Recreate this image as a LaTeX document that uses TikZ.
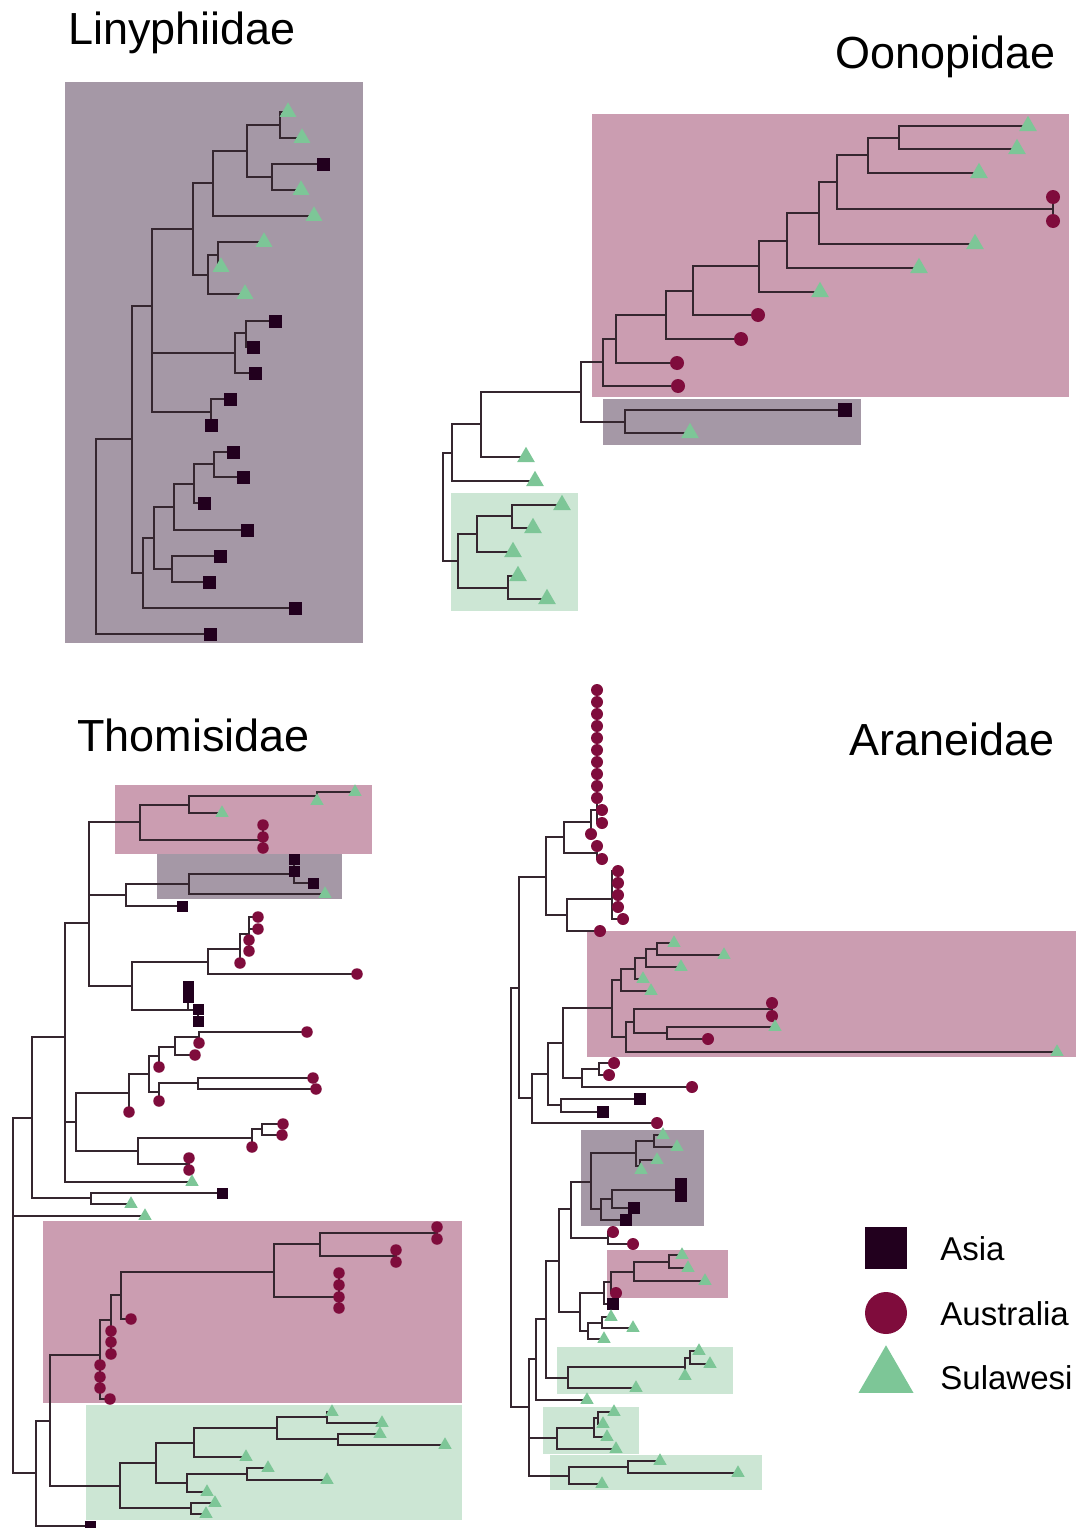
\documentclass[tikz,border=0pt]{standalone}
\usepackage{fontspec}
\setmainfont{Liberation Sans}
\usetikzlibrary{shapes.geometric}
\pgfdeclarelayer{top}
\pgfsetlayers{main,top}
\definecolor{asiac}{HTML}{22001E}
\definecolor{ausc}{HTML}{7F0C3C}
\definecolor{sulc}{HTML}{7DC697}
\definecolor{greybox}{HTML}{A598A6}
\definecolor{pinkbox}{HTML}{CB9DB1}
\definecolor{greenbox}{HTML}{CCE6D4}
\definecolor{brc}{HTML}{35262F}
\newcommand{\Tip}[4]{\begin{pgfonlayer}{top}\node[#1] (#2) at (#3,#4) {};\end{pgfonlayer}}
\newcommand{\Asia}[3]{\Tip{asia}{#1}{#2}{#3}}
\newcommand{\Aus}[3]{\Tip{aus}{#1}{#2}{#3}}
\newcommand{\Sul}[3]{\Tip{sul}{#1}{#2}{#3}}
\newcommand{\Split}[3]{\coordinate (#1) at (#2,#3);}
\newcommand{\Clade}[2]{\foreach \c in {#2} \draw[branch] (#1) |- (\c.center);}

\begin{document}
\begin{tikzpicture}[x=0.02cm,y=-0.02cm]
\tikzset{
  branch/.style={draw=brc, line width=0.7pt},
  asia/.style={rectangle, fill=asiac, inner sep=0pt, minimum size=\sqs},
  aus/.style={circle, fill=ausc, inner sep=0pt, minimum size=\cis},
  sul/.style={regular polygon, regular polygon sides=3, fill=sulc, inner sep=0pt, minimum size=\trs},
  greyclade/.style={fill=greybox},
  pinkclade/.style={fill=pinkbox},
  greenclade/.style={fill=greenbox},
  title/.style={anchor=base west, inner sep=0pt, font=\fontsize{25.6}{30}\selectfont},
  legend/.style={anchor=base west, inner sep=0pt, font=\fontsize{18.8}{22}\selectfont}
}
\useasboundingbox (0,0) rectangle (1076,1528);

\node[title] (tLin) at (68,44) {Linyphiidae};
\node[title] (tOon) at (835,68) {Oonopidae};
\node[title] (tTho) at (77,751) {Thomisidae};
\node[title] (tAra) at (849,755) {Araneidae};

\fill[greyclade] (65,82) rectangle (363,643);
\fill[pinkclade] (592,114) rectangle (1069,397);
\fill[greyclade] (603,399) rectangle (861,445);
\fill[greenclade] (451,493) rectangle (578,611);
\fill[pinkclade] (115,785) rectangle (372,854);
\fill[greyclade] (157,854) rectangle (342,899);
\fill[pinkclade] (43,1221) rectangle (462,1403);
\fill[greenclade] (86,1405) rectangle (462,1520);
\fill[pinkclade] (587,931) rectangle (1076,1057);
\fill[greyclade] (581,1130) rectangle (704,1226);
\fill[pinkclade] (607,1250) rectangle (728,1298);
\fill[greenclade] (557,1347) rectangle (733,1394);
\fill[greenclade] (543,1407) rectangle (639,1454);
\fill[greenclade] (550,1455) rectangle (762,1490);

\def\sqs{0.26cm}\def\cis{0.28cm}\def\trs{0.39cm}
\Sul{l1}{288}{112} \Sul{l2}{302}{138} \Asia{l3}{323}{164} \Sul{l4}{301}{190}
\Sul{l5}{314}{216} \Sul{l6}{264}{242} \Sul{l7}{221}{267} \Sul{l8}{245}{294}
\Asia{l9}{275}{321} \Asia{l10}{253}{347} \Asia{l11}{255}{373} \Asia{l12}{230}{399}
\Asia{l13}{211}{425} \Asia{l14}{233}{452} \Asia{l15}{243}{477} \Asia{l16}{204}{503}
\Asia{l17}{247}{530} \Asia{l18}{220}{556} \Asia{l19}{209}{582} \Asia{l20}{295}{608}
\Asia{l21}{210}{634}
\Split{lA}{280}{125} \Split{lB}{272}{177} \Split{lC}{247}{151} \Split{lD}{213}{183}
\Split{lG}{218}{255} \Split{lF}{208}{275} \Split{lE}{193}{229} \Split{lK}{246}{333}
\Split{lJ}{235}{353} \Split{lI}{211}{412} \Split{lH}{152}{306} \Split{lR}{214}{464}
\Split{lQ}{194}{484} \Split{lO}{174}{507} \Split{lP}{172}{569} \Split{lN}{154}{538}
\Split{lM}{143}{573} \Split{lL}{132}{439} \Split{lroot}{96}{537}
\Clade{lA}{l1,l2} \Clade{lB}{l3,l4} \Clade{lC}{lA,lB} \Clade{lD}{lC,l5}
\Clade{lG}{l6,l7} \Clade{lF}{lG,l8} \Clade{lE}{lD,lF} \Clade{lK}{l9,l10}
\Clade{lJ}{lK,l11} \Clade{lI}{l12,l13} \Clade{lH}{lE,lJ,lI} \Clade{lR}{l14,l15}
\Clade{lQ}{lR,l16} \Clade{lO}{lQ,l17} \Clade{lP}{l18,l19} \Clade{lN}{lO,lP}
\Clade{lM}{lN,l20} \Clade{lL}{lH,lM} \Clade{lroot}{lL,l21}

\def\sqs{0.27cm}\def\cis{0.28cm}\def\trs{0.41cm}
\Sul{o1}{1028}{126} \Sul{o2}{1017}{149} \Sul{o3}{979}{173} \Aus{o4}{1053}{197}
\Aus{o5}{1053}{221} \Sul{o6}{975}{244} \Sul{o7}{919}{268} \Sul{o8}{820}{292}
\Aus{o9}{758}{315} \Aus{o10}{741}{339} \Aus{o11}{677}{363} \Aus{o12}{678}{386}
\Asia{o13}{845}{410} \Sul{o14}{690}{433} \Sul{o15}{526}{457} \Sul{o16}{535}{481}
\Sul{o17}{562}{505} \Sul{o18}{533}{528} \Sul{o19}{513}{552} \Sul{o20}{518}{576}
\Sul{o21}{547}{599}
\Split{oP}{899}{138} \Split{oN}{868}{155} \Split{oO}{1053}{209} \Split{oM}{837}{182}
\Split{oL}{819}{213} \Split{oK}{787}{241} \Split{oJ}{759}{266} \Split{oI}{693}{291}
\Split{oH}{666}{315} \Split{oG}{616}{339} \Split{oE}{603}{362} \Split{oF}{625}{422}
\Split{oD}{581}{392} \Split{oC}{481}{424} \Split{oA}{452}{453} \Split{oS}{512}{516}
\Split{oQ}{477}{534} \Split{oR}{508}{588} \Split{oB}{458}{561} \Split{oroot}{443}{507}
\Clade{oP}{o1,o2} \Clade{oN}{oP,o3} \Clade{oO}{o4,o5} \Clade{oM}{oN,oO}
\Clade{oL}{oM,o6} \Clade{oK}{oL,o7} \Clade{oJ}{oK,o8} \Clade{oI}{oJ,o9}
\Clade{oH}{oI,o10} \Clade{oG}{oH,o11} \Clade{oE}{oG,o12} \Clade{oF}{o13,o14}
\Clade{oD}{oE,oF} \Clade{oC}{oD,o15} \Clade{oA}{oC,o16} \Clade{oS}{o17,o18}
\Clade{oQ}{oS,o19} \Clade{oR}{o20,o21} \Clade{oB}{oQ,oR} \Clade{oroot}{oA,oB}

\def\sqs{0.22cm}\def\cis{0.23cm}\def\trs{0.31cm}
\Sul{t1}{355}{792} \Sul{t2}{317}{801} \Sul{t3}{222}{813} \Aus{t4}{263}{825}
\Aus{t5}{263}{837} \Aus{t6}{263}{848} \Asia{t7}{294}{859} \Asia{t8}{294}{871}
\Asia{t9}{313}{883} \Sul{t10}{325}{894} \Asia{t11}{182}{906} \Aus{t12}{258}{917}
\Aus{t13}{258}{929} \Aus{t14}{249}{940} \Aus{t15}{249}{951} \Aus{t16}{240}{963}
\Aus{t17}{357}{974} \Asia{t18}{188}{986} \Asia{t19}{188}{997} \Asia{t20}{198}{1009}
\Asia{t21}{198}{1021} \Aus{t22}{307}{1032} \Aus{t23}{199}{1043} \Aus{t24}{195}{1055}
\Aus{t25}{159}{1067} \Aus{t26}{313}{1078} \Aus{t27}{316}{1089} \Aus{t28}{159}{1101}
\Aus{t29}{129}{1112} \Aus{t30}{283}{1124} \Aus{t31}{282}{1135} \Aus{t32}{252}{1147}
\Aus{t33}{189}{1158} \Aus{t34}{189}{1170} \Sul{t35}{192}{1182} \Asia{t36}{222}{1193}
\Sul{t37}{131}{1204} \Sul{t38}{145}{1216} \Aus{t39}{437}{1227} \Aus{t40}{437}{1239}
\Aus{t41}{396}{1250} \Aus{t42}{396}{1262} \Aus{t43}{339}{1273} \Aus{t44}{339}{1285}
\Aus{t45}{339}{1297} \Aus{t46}{339}{1308} \Aus{t47}{131}{1319} \Aus{t48}{111}{1331}
\Aus{t49}{111}{1342} \Aus{t50}{111}{1354} \Aus{t51}{100}{1365} \Aus{t52}{100}{1377}
\Aus{t53}{100}{1388} \Aus{t54}{110}{1399} \Sul{t55}{332}{1412} \Sul{t56}{382}{1423}
\Sul{t57}{380}{1434} \Sul{t58}{445}{1445} \Sul{t59}{246}{1457} \Sul{t60}{268}{1468}
\Sul{t61}{327}{1480} \Sul{t62}{207}{1492} \Sul{t63}{215}{1503} \Sul{t64}{206}{1514}
\Asia{t65}{90}{1526}
\Split{tG}{317}{796} \Split{tE}{189}{805} \Split{tF}{263}{840} \Split{tB}{140}{822}
\Split{tI}{294}{874} \Split{tH}{189}{884} \Split{tC}{126}{895} \Split{tM}{249}{934}
\Split{tL}{240}{949} \Split{tJ}{208}{962} \Split{tKb}{198}{1010} \Split{tK}{188}{1010}
\Split{tD}{132}{986} \Split{tA}{89}{923} \Split{tTc}{199}{1037} \Split{tTb}{175}{1047}
\Split{tT}{159}{1056} \Split{tSb}{198}{1083} \Split{tS}{159}{1092} \Split{tU}{149}{1074}
\Split{tW}{129}{1093} \Split{tVd}{262}{1129} \Split{tVb}{252}{1138} \Split{tVc}{189}{1164}
\Split{tV}{138}{1151} \Split{tX}{76}{1122} \Split{tAo}{65}{1037} \Split{tY}{91}{1198}
\Split{tZa}{32}{1118} \Split{tPg}{437}{1233} \Split{tPh}{396}{1256} \Split{tPe}{320}{1244}
\Split{tPf}{339}{1297} \Split{tPd}{274}{1272} \Split{tPc}{121}{1295} \Split{tPb}{111}{1320}
\Split{tPa}{100}{1355} \Split{tGg}{327}{1417} \Split{tGh}{338}{1439} \Split{tGf}{277}{1428}
\Split{tGd}{194}{1443} \Split{tGi}{247}{1474} \Split{tGe}{187}{1483} \Split{tGb}{156}{1463}
\Split{tGc}{191}{1508} \Split{tGa}{120}{1486} \Split{tZc}{50}{1421} \Split{tZb}{36}{1473}
\Split{troot}{13}{1300}
\Clade{tG}{t1,t2} \Clade{tE}{tG,t3} \Clade{tF}{t4,t5,t6} \Clade{tB}{tE,tF}
\Clade{tI}{t7,t8,t9} \Clade{tH}{tI,t10} \Clade{tC}{tH,t11} \Clade{tM}{t12,t13,t14,t15}
\Clade{tL}{tM,t16} \Clade{tJ}{tL,t17} \Clade{tKb}{t20,t21} \Clade{tK}{t18,t19,tKb}
\Clade{tD}{tJ,tK} \Clade{tA}{tB,tC,tD} \Clade{tTc}{t22,t23} \Clade{tTb}{tTc,t24}
\Clade{tT}{tTb,t25} \Clade{tSb}{t26,t27} \Clade{tS}{tSb,t28} \Clade{tU}{tT,tS}
\Clade{tW}{tU,t29} \Clade{tVd}{t30,t31} \Clade{tVb}{tVd,t32} \Clade{tVc}{t33,t34}
\Clade{tV}{tVb,tVc} \Clade{tX}{tW,tV} \Clade{tAo}{tA,tX,t35} \Clade{tY}{t36,t37}
\Clade{tZa}{tAo,tY} \Clade{tPg}{t39,t40} \Clade{tPh}{t41,t42} \Clade{tPe}{tPg,tPh}
\Clade{tPf}{t43,t44,t45,t46} \Clade{tPd}{tPe,tPf} \Clade{tPc}{tPd,t47}
\Clade{tPb}{tPc,t48,t49,t50} \Clade{tPa}{tPb,t51,t52,t53,t54} \Clade{tGg}{t55,t56}
\Clade{tGh}{t57,t58} \Clade{tGf}{tGg,tGh} \Clade{tGd}{tGf,t59} \Clade{tGi}{t60,t61}
\Clade{tGe}{tGi,t62} \Clade{tGb}{tGd,tGe} \Clade{tGc}{t63,t64} \Clade{tGa}{tGb,tGc}
\Clade{tZc}{tPa,tGa} \Clade{tZb}{tZc,t65} \Clade{troot}{tZa,t38,tZb}

\def\sqs{0.23cm}\def\cis{0.24cm}\def\trs{0.31cm}
\foreach \n/\y in {1/690,2/702,3/714,4/726,5/738,6/750,7/762,8/774,9/786,10/798}
  {\Aus{a\n}{597}{\y}}
\Aus{a11}{602}{810} \Aus{a12}{602}{823} \Aus{a13}{591}{834} \Aus{a14}{597}{846}
\Aus{a15}{602}{859} \Aus{a16}{618}{871} \Aus{a17}{618}{883} \Aus{a18}{618}{895}
\Aus{a19}{618}{907} \Aus{a20}{623}{919} \Aus{a21}{600}{931} \Sul{a22}{674}{943}
\Sul{a23}{724}{955} \Sul{a24}{681}{967} \Sul{a25}{643}{979} \Sul{a26}{651}{991}
\Aus{a27}{772}{1003} \Aus{a28}{772}{1016} \Sul{a29}{775}{1027} \Aus{a30}{708}{1039}
\Sul{a31}{1057}{1052} \Aus{a32}{614}{1063} \Aus{a33}{609}{1075} \Aus{a34}{692}{1087}
\Asia{a35}{640}{1099} \Asia{a36}{603}{1112} \Aus{a37}{657}{1123} \Sul{a38}{663}{1135}
\Sul{a39}{677}{1147} \Sul{a40}{657}{1160} \Sul{a41}{641}{1170} \Asia{a42}{681}{1184}
\Asia{a43}{681}{1196} \Asia{a44}{634}{1208} \Asia{a45}{626}{1220} \Aus{a46}{613}{1232}
\Aus{a47}{633}{1244} \Sul{a48}{682}{1255} \Sul{a49}{688}{1268} \Sul{a50}{705}{1281}
\Aus{a51}{616}{1293} \Asia{a52}{613}{1304} \Sul{a53}{611}{1317} \Sul{a54}{633}{1328}
\Sul{a55}{604}{1339} \Sul{a56}{699}{1351} \Sul{a57}{710}{1364} \Sul{a58}{685}{1376}
\Sul{a59}{636}{1388} \Sul{a60}{587}{1400} \Sul{a61}{614}{1412} \Sul{a62}{603}{1424}
\Sul{a63}{607}{1437} \Sul{a64}{616}{1449} \Sul{a65}{660}{1461} \Sul{a66}{738}{1473}
\Sul{a67}{602}{1484}
\Split{aAD}{597}{810} \Split{aAB}{591}{822} \Split{aAC}{597}{853} \Split{aAA}{564}{837}
\Split{aAG}{612}{899} \Split{aAF}{567}{915} \Split{aAE}{546}{877} \Split{aPE}{657}{949}
\Split{aPD}{646}{958} \Split{aPC}{635}{969} \Split{aPA}{621}{980} \Split{aPG}{772}{1009}
\Split{aPH}{667}{1033} \Split{aPF}{634}{1022} \Split{aPB}{626}{1037} \Split{aPK}{612}{1008}
\Split{aRg}{599}{1069} \Split{aRf}{582}{1078} \Split{aRd}{563}{1043} \Split{aRe}{561}{1105}
\Split{aRc}{548}{1074} \Split{aRb}{532}{1098} \Split{aRa}{519}{988} \Split{aGU}{654}{1141}
\Split{aGV}{640}{1166} \Split{aGS}{636}{1153} \Split{aGX}{681}{1190} \Split{aGW}{612}{1199}
\Split{aGT}{601}{1209} \Split{aGR}{591}{1182} \Split{aRJ}{608}{1238} \Split{aRH}{571}{1209}
\Split{aPR}{669}{1262} \Split{aPQ}{634}{1272} \Split{aPP}{611}{1282} \Split{aRK}{604}{1293}
\Split{aRM}{602}{1323} \Split{aRL}{588}{1331} \Split{aRI}{580}{1312} \Split{aRG}{559}{1261}
\Split{aGC}{690}{1358} \Split{aGB}{685}{1367} \Split{aGA}{568}{1378} \Split{aRF}{546}{1319}
\Split{aRC}{536}{1359} \Split{aRO}{598}{1418} \Split{aRN}{594}{1428} \Split{aRD}{557}{1438}
\Split{aRP}{628}{1467} \Split{aRE}{569}{1476} \Split{aRB}{529}{1407} \Split{aroot}{511}{1200}
\Clade{aAD}{a1,a2,a3,a4,a5,a6,a7,a8,a9,a10,a11,a12} \Clade{aAB}{aAD,a13}
\Clade{aAC}{a14,a15} \Clade{aAA}{aAB,aAC} \Clade{aAG}{a16,a17,a18,a19,a20}
\Clade{aAF}{aAG,a21} \Clade{aAE}{aAA,aAF} \Clade{aPE}{a22,a23} \Clade{aPD}{aPE,a24}
\Clade{aPC}{aPD,a25} \Clade{aPA}{aPC,a26} \Clade{aPG}{a27,a28} \Clade{aPH}{a29,a30}
\Clade{aPF}{aPG,aPH} \Clade{aPB}{aPF,a31} \Clade{aPK}{aPA,aPB} \Clade{aRg}{a32,a33}
\Clade{aRf}{aRg,a34} \Clade{aRd}{aPK,aRf} \Clade{aRe}{a35,a36} \Clade{aRc}{aRd,aRe}
\Clade{aRb}{aRc,a37} \Clade{aRa}{aAE,aRb} \Clade{aGU}{a38,a39} \Clade{aGV}{a40,a41}
\Clade{aGS}{aGU,aGV} \Clade{aGX}{a42,a43} \Clade{aGW}{aGX,a44} \Clade{aGT}{aGW,a45}
\Clade{aGR}{aGS,aGT} \Clade{aRJ}{a46,a47} \Clade{aRH}{aGR,aRJ} \Clade{aPR}{a48,a49}
\Clade{aPQ}{aPR,a50} \Clade{aPP}{aPQ,a51} \Clade{aRK}{aPP,a52} \Clade{aRM}{a53,a54}
\Clade{aRL}{aRM,a55} \Clade{aRI}{aRK,aRL} \Clade{aRG}{aRH,aRI} \Clade{aGC}{a56,a57}
\Clade{aGB}{aGC,a58} \Clade{aGA}{aGB,a59} \Clade{aRF}{aRG,aGA} \Clade{aRC}{aRF,a60}
\Clade{aRO}{a61,a62} \Clade{aRN}{aRO,a63} \Clade{aRD}{aRN,a64} \Clade{aRP}{a65,a66}
\Clade{aRE}{aRP,a67} \Clade{aRB}{aRC,aRD,aRE} \Clade{aroot}{aRa,aRB}

\def\sqs{0.84cm}\def\cis{0.84cm}\def\trs{1.27cm}
\Asia{kAsia}{886}{1248} \Aus{kAus}{886}{1313} \Sul{kSul}{886}{1377}
\node[legend] (lAsia) at (940,1260) {Asia};
\node[legend] (lAus) at (940,1325) {Australia};
\node[legend] (lSul) at (940,1389) {Sulawesi};
\end{tikzpicture}
\end{document}
